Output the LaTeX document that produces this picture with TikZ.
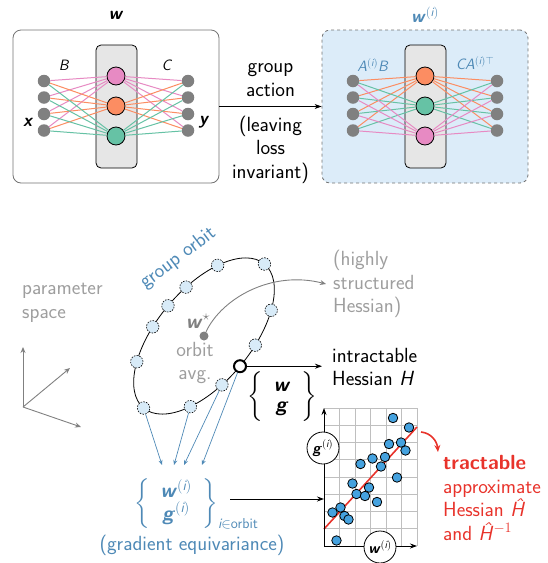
\documentclass[tikz,border=0pt]{standalone}
\usepackage{fix-cm}
\usepackage{amsmath}
\usepackage{fontspec}
\renewcommand{\familydefault}{\sfdefault}
\usetikzlibrary{arrows.meta, positioning, calc}

\definecolor{setpink}{HTML}{E78AC3}
\definecolor{setorange}{HTML}{FC8D62}
\definecolor{setgreen}{HTML}{66C2A5}
\definecolor{unitgray}{HTML}{808080}
\definecolor{layerfill}{HTML}{E6E6E6}
\definecolor{panelblue}{HTML}{DCECF9}
\definecolor{orbitblue}{HTML}{4E89B6}
\definecolor{orbitfill}{HTML}{D8EBF8}
\definecolor{dotblue}{HTML}{45A2DF}
\definecolor{hessred}{HTML}{E8332B}
\definecolor{softgray}{HTML}{9E9E9E}

\newcommand{\wvec}{\textbf{\textit{w}}}
\newcommand{\gvec}{\textbf{\textit{g}}}
\newcommand{\ith}{^{(\textit{i})}}

\begin{document}
\begin{tikzpicture}[x=1pt, y=-1pt,
	font=\fontsize{20.5}{23.5}\selectfont,
	every node/.style={inner sep=2pt},
	panel/.style={draw=black!55, line width=0.8pt, rounded corners=8pt, minimum width=206pt, minimum height=153pt},
	layer/.style={draw=black, line width=0.8pt, fill=layerfill, rounded corners=5pt, minimum width=41pt, minimum height=123pt},
	unit/.style={circle, draw=black, line width=0.8pt, minimum size=18pt, inner sep=0pt},
	io/.style={circle, fill=unitgray, minimum size=12.5pt, inner sep=0pt},
	link/.style={line width=1pt},
	wlbl/.style={font=\fontsize{15}{18}\selectfont},
	vlbl/.style={font=\fontsize{18}{20}\selectfont},
	orbitpt/.style={circle, draw=black, fill=orbitfill, dash pattern=on 1.6pt off 1.2pt, line width=0.6pt, minimum size=12.5pt, inner sep=0pt},
	avgpt/.style={circle, draw=black, fill=white, line width=2pt, minimum size=12pt, inner sep=0pt},
	flow/.style={-{Stealth[length=7pt, width=5pt]}, line width=0.9pt},
	tobuf/.style={orbitblue, line width=0.7pt, -{Stealth[length=5pt, width=4pt]}},
	pdot/.style={circle, draw=black, fill=dotblue, line width=0.8pt, minimum size=9.5pt, inner sep=0pt},
	axlbl/.style={circle, draw=black, fill=white, line width=0.8pt, minimum size=32pt, inner sep=0pt, font=\fontsize{15}{18}\selectfont},
	]
	\useasboundingbox (0,0) rectangle (548,563);

	% network with weights w
	\node[panel, fill=white] (netA) at (116,106.5) {};
	\node[layer] (layA) at (116.5,106.5) {};
	\foreach \c [count=\j] in {setpink,setorange,setgreen}
		\node[unit, fill=\c] (hA\j) at (116,46+30*\j) {};
	\foreach \k in {1,...,4} {
		\node[io] (xA\k) at (44,64.5+16.5*\k) {};
		\node[io] (yA\k) at (188,64.5+16.5*\k) {};
	}
	\foreach \c [count=\j] in {setpink,setorange,setgreen}
		\foreach \k in {1,...,4} {
			\draw[link, \c] (xA\k) -- (hA\j);
			\draw[link, \c] (hA\j) -- (yA\k);
		}
	\node[wlbl] (lbB) at (64,65) {\textit{B}};
	\node[wlbl] (lbC) at (167,65) {\textit{C}};
	\node[vlbl] (lbx) at (28,122) {\textbf{\textit{x}}};
	\node[vlbl] (lby) at (204,122) {\textbf{\textit{y}}};
	\node[vlbl] (ttlA) at (116,15) {\wvec};

	% transformed network w^(i)
	\node[panel, fill=panelblue, dashed] (netB) at (425,106.5) {};
	\node[layer] (layB) at (425.5,106.5) {};
	\foreach \c [count=\j] in {setorange,setgreen,setpink}
		\node[unit, fill=\c] (hB\j) at (425,46+30*\j) {};
	\foreach \k in {1,...,4} {
		\node[io] (xB\k) at (353,64.5+16.5*\k) {};
		\node[io] (yB\k) at (497,64.5+16.5*\k) {};
	}
	\foreach \c [count=\j] in {setorange,setgreen,setpink}
		\foreach \k in {1,...,4} {
			\draw[link, \c] (xB\k) -- (hB\j);
			\draw[link, \c] (hB\j) -- (yB\k);
		}
	\node[wlbl, text=orbitblue] (lbAB) at (373,65) {\textit{A}$\ith$\textit{B}};
	\node[wlbl, text=orbitblue] (lbCA) at (475,63) {\textit{CA}$^{(\textit{i})\top}$};
	\node[vlbl, text=orbitblue] (ttlB) at (425,15) {\wvec$\ith$};

	\draw[flow] (netA) -- (netB);
	\node[above=8pt, align=center] (act) at ($(netA.east)!0.5!(netB.west)$) {group\\action};
	\node[below=7pt, align=center] (inv) at ($(netA.east)!0.5!(netB.west)$) {(leaving\\loss\\invariant)};

	% parameter space axes
	\node[anchor=west, align=left, text=softgray] (pspace) at (20,303) {parameter\\space};
	\coordinate (ax0) at (23,407);
	\coordinate (axu) at (23,347);
	\coordinate (axr) at (70,368);
	\coordinate (axd) at (81,427);
	\foreach \e in {axu,axr,axd}
		\draw[unitgray, line width=0.9pt, -{Stealth[length=6pt, width=5pt]}] (ax0) -- (\e);

	% the group orbit
	\begin{scope}[shift={(204,336)}, rotate=50]
		\draw[line width=0.8pt] (0,0) ellipse [x radius=94, y radius=47];
		\foreach \t [count=\i] in {0,48,74,106,132,180,228,254,270,286,312}
			\node[orbitpt] (o\i) at (\t:94 and 47) {};
		\node[avgpt] (wavg) at (90:94 and 47) {};
	\end{scope}
	\node[text=orbitblue, rotate=37] (orbitlbl) at (178,258) {group orbit};

	\node[circle, fill=unitgray, minimum size=9pt, inner sep=0pt] (wstar) at (204,336) {};
	\node[text=unitgray] (wstarlbl) at (198,321) {\wvec$^\star$};
	\node[text=softgray, align=center] (avglbl) at (195,363) {orbit\\avg.};
	\node[anchor=west, align=left, text=softgray] (hstruct) at (331,284) {(highly\\structured\\Hessian)};
	\draw[unitgray, line width=0.9pt, -{Stealth[length=6pt, width=5pt]}] (wstar) .. controls (222,298) and (272,270) .. ([xshift=-5pt]hstruct.west);

	\node[anchor=west, align=left] (intr) at (330,367) {intractable\\Hessian \textit{H}};
	\draw[flow, shorten >=8pt] (wavg) -- (wavg -| intr.west);
	\node (wg) at (282,397) {$\left\{\;\begin{array}{c}\wvec\\[-4pt]\gvec\end{array}\;\right\}$};

	% orbit samples
	\coordinate (e1) at (162,465);
	\coordinate (e2) at (174,465);
	\coordinate (e3) at (184,465);
	\coordinate (e4) at (202,465);
	\draw[tobuf] (o6) -- (e1);
	\draw[tobuf] (o5) -- (e2);
	\draw[tobuf] (o4) -- (e3);
	\draw[tobuf] (wavg) -- (e4);
	\node[anchor=west, text=orbitblue] (eqset) at (132,504) {$\left\{\;\begin{array}{c}\wvec\ith\\[-3pt]\gvec\ith\end{array}\;\right\}_{\textit{i}\in\text{orbit}}$};
	\node[text=orbitblue] (gradeq) at (192,545) {(gradient equivariance)};

	% scatter of w^(i) against g^(i)
	\coordinate (orig) at (324,546);
	\foreach \i in {1,...,6}
		\draw[black!25, line width=0.6pt] (324+15.5*\i,408) -- ++(0,138);
	\foreach \j in {0,...,7}
		\draw[black!25, line width=0.6pt] (324,408+17.25*\j) -- ++(93,0);
	\draw[hessred, line width=1.6pt] (324,529) -- (417,427);
	\foreach \px/\py [count=\i] in {393/418, 409/427.5, 401/442.5, 389/444, 405.5/450.5, 385/457,
		372.5/458.5, 360.5/464, 381/466.5, 397/477.5, 352.5/483.5, 369/487.5, 356.5/494,
		365/496, 377/502, 340.5/507.5, 332.5/512.5, 344.5/516, 348.5/519.5, 336.5/540.5}
		\node[pdot] (s\i) at (\px,\py) {};
	\draw[flow, line width=0.8pt] (orig) -- (324,408);
	\draw[flow, line width=0.8pt] (orig) -- (417,546);
	\node[axlbl] (glbl) at (323,448) {\gvec$\ith$};
	\node[axlbl] (wlbl) at (380,547) {\wvec$\ith$};

	\coordinate (setout) at (230,499);
	\draw[flow] (setout) -- (setout -| orig);

	% tractable approximation
	\node[anchor=west, align=left, text=hessred] (tract) at (441,498) {\textbf{tractable}\\approximate\\Hessian \textit{Ĥ}\\and \textit{Ĥ}$^{-1}$};
	\draw[hessred, line width=1.6pt, -{Stealth[length=7pt, width=6pt]}] (421,432) .. controls (431,433) and (437,441) .. (438,452);
\end{tikzpicture}
\end{document}
